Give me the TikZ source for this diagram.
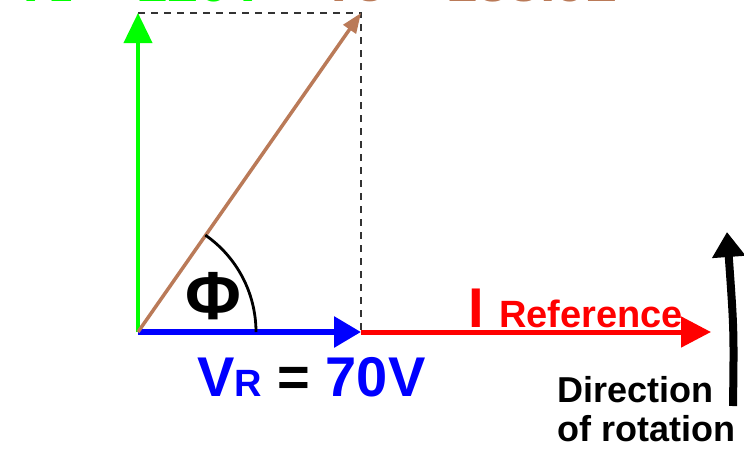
\documentclass[tikz,border=0pt]{standalone}
\usepackage{fontspec}
\setmainfont{Liberation Sans}
\usepackage{tikz}
\usetikzlibrary{arrows.meta,positioning,calc}
\definecolor{phasorgreen}{RGB}{0, 255, 0}
\definecolor{phasorblue}{RGB}{0, 0, 255}
\definecolor{phasorred}{RGB}{255, 0, 0}
\definecolor{phasorbrown}{RGB}{186, 122, 88}
\newcommand{\bigtxt}{\fontsize{56}{60}\selectfont\bfseries}
\newcommand{\subtxt}{\fontsize{38}{40}\selectfont\bfseries}
\newcommand{\rottxt}{\fontsize{36}{39}\selectfont\bfseries}
\newcommand{\phitxt}{\fontsize{68}{70}\selectfont\bfseries}

\begin{document}
\begin{tikzpicture}[x=1pt,y=-1pt,
    txtlabel/.style={inner sep=0pt,anchor=base west}]
    \clip (0,0) rectangle (744,448);
    \useasboundingbox (0,0) rectangle (744,448);

    % Phasor end points
    \coordinate (O) at (138,332);
    \coordinate (vr) at (361,332);
    \coordinate (vl) at (138,13);
    \coordinate (vs) at (361,13);
    \coordinate (ir) at (711,332);

    % Dashed construction lines
    \draw[dashed,dash pattern=on 7pt off 6pt,line width=1.4pt,black!80] (vl) -- (vs) -- (vr);

    % Current reference I
    \draw[-{Triangle[length=30pt,width=30pt]},line width=5pt,phasorred] (vr) -- (ir);

    % V_R, V_L and V_S
    \draw[-{Triangle[length=27pt,width=30pt]},line width=6pt,phasorblue] (O) -- (vr);
    \draw[-{Triangle[length=30pt,width=28pt]},line width=4pt,phasorgreen] (O) -- (vl);
    \draw[-{Triangle[length=20pt,width=15pt]},line width=3.5pt,phasorbrown] (O) -- (vs);

    % Phase angle
    \draw[line width=2.8pt,black] ($(O)+(118,0)$) arc[start angle=0,end angle=-55.2,radius=118];
    \node[inner sep=0pt] (phi) at (213,296) {\phitxt Φ};

    % Labels
    \node[txtlabel,phasorgreen] (vltxt) at (12,1) {\bigtxt V{\subtxt L} {\color{black}=} 120V};
    \node[txtlabel,phasorbrown] (vstxt) at (320,1) {\bigtxt V{\subtxt S} {\color{black}=} 138.92};
    \node[txtlabel,phasorblue] (vrtxt) at (197,396) {\bigtxt V{\subtxt R} {\color{black}=} 70V};
    \node[txtlabel,phasorred] (itxt) at (468,327) {\bigtxt I {\subtxt Reference}};

    % Direction of rotation
    \node[txtlabel] (rottxt) at (557,402) {\rottxt Direction};
    \node[txtlabel] (rottxt2) at (557,441) {\rottxt of rotation};
    \coordinate (rotbot) at (733,406);
    \coordinate (rottop) at (727,232);
    \draw[-{Triangle[length=25pt,width=32pt]},line width=8pt,black] (rotbot) .. controls (734,330) .. (rottop);
\end{tikzpicture}
\end{document}
